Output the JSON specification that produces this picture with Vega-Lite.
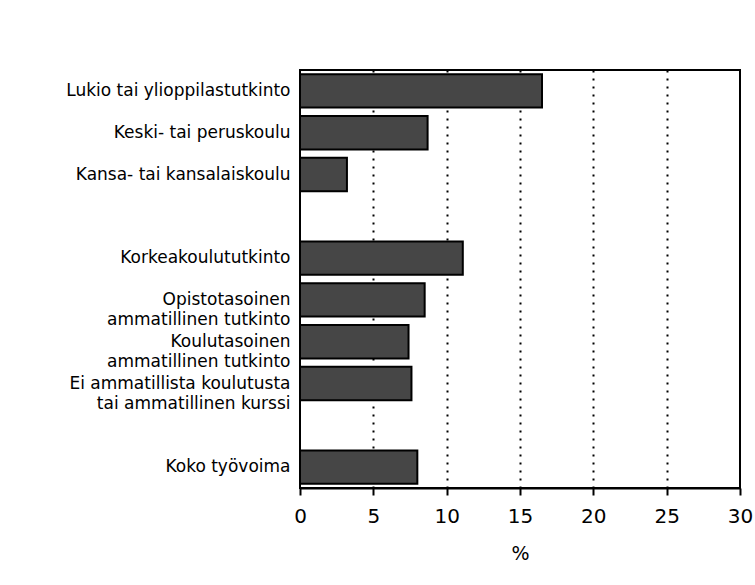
{
  "$schema": "https://vega.github.io/schema/vega-lite/v6.json",
  "autosize": {"type": "none"},
  "width": 440,
  "height": 418,
  "padding": {"left": 300, "top": 70, "right": 15, "bottom": 97},
  "background": "white",
  "data": {
    "values": [
      {"ryhma": "Lukio tai ylioppilastutkinto", "osuus": 16.5},
      {"ryhma": "Keski- tai peruskoulu", "osuus": 8.7},
      {"ryhma": "Kansa- tai kansalaiskoulu", "osuus": 3.2},
      {"ryhma": "Korkeakoulututkinto", "osuus": 11.1},
      {"ryhma": "Opistotasoinen|ammatillinen tutkinto", "osuus": 8.5},
      {"ryhma": "Koulutasoinen|ammatillinen tutkinto", "osuus": 7.4},
      {"ryhma": "Ei ammatillista koulutusta|tai ammatillinen kurssi", "osuus": 7.6},
      {"ryhma": "Koko työvoima", "osuus": 8.0}
    ]
  },
  "mark": {"type": "bar", "fill": "#464646", "stroke": "black", "strokeWidth": 2},
  "encoding": {
    "y": {
      "field": "ryhma",
      "type": "nominal",
      "sort": null,
      "scale": {
        "domain": [
          "Lukio tai ylioppilastutkinto",
          "Keski- tai peruskoulu",
          "Kansa- tai kansalaiskoulu",
          "tyhja1",
          "Korkeakoulututkinto",
          "Opistotasoinen|ammatillinen tutkinto",
          "Koulutasoinen|ammatillinen tutkinto",
          "Ei ammatillista koulutusta|tai ammatillinen kurssi",
          "tyhja2",
          "Koko työvoima"
        ],
        "paddingInner": 0.2,
        "paddingOuter": 0.1
      },
      "axis": {
        "title": null,
        "ticks": false,
        "domain": false,
        "labelExpr": "indexof(datum.value, 'tyhja') == 0 ? '' : split(datum.value, '|')",
        "labelFont": "DejaVu Sans",
        "labelFontSize": 17,
        "labelLineHeight": 20,
        "labelColor": "black",
        "labelPadding": 10,
        "labelLimit": 400
      }
    },
    "x": {
      "field": "osuus",
      "type": "quantitative",
      "scale": {"domain": [0, 30], "nice": false},
      "axis": {
        "title": "%",
        "titleFont": "DejaVu Sans",
        "titleFontSize": 19,
        "titleFontWeight": "normal",
        "titleColor": "black",
        "titlePadding": 18,
        "values": [0, 5, 10, 15, 20, 25, 30],
        "labelFont": "DejaVu Sans",
        "labelFontSize": 20,
        "labelColor": "black",
        "labelPadding": 11,
        "labelFlush": false,
        "tickColor": "black",
        "tickWidth": 2,
        "tickSize": 7,
        "domainColor": "black",
        "domainWidth": 2,
        "grid": true,
        "gridColor": "black",
        "gridWidth": 2,
        "gridDash": [2, 6],
        "gridOpacity": {"expr": "datum.value == 0 || datum.value == 30 ? 0 : 1"}
      }
    }
  },
  "config": {
    "view": {"stroke": "black", "strokeWidth": 2}
  }
}
